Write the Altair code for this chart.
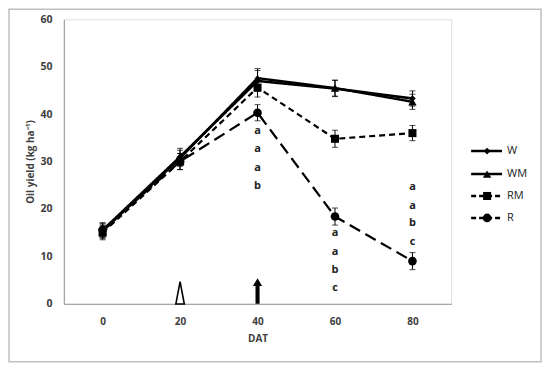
import altair as alt
import pandas as pd

# ---- data ----
dat = [0, 20, 40, 60, 80]
series = ["W", "WM", "RM", "R"]
W = [15.5, 31.0, 47.0, 45.4, 43.3]
WM = [15.3, 30.7, 47.6, 45.5, 42.6]
RM = [15.0, 30.0, 45.6, 34.8, 36.0]
R = [15.6, 30.0, 40.3, 18.4, 9.0]
W_err = [1.5, 1.8, 2.2, 1.7, 1.6]
WM_err = [1.5, 1.7, 2.0, 1.7, 1.6]
RM_err = [1.5, 1.7, 2.0, 1.8, 1.6]
R_err = [1.5, 1.7, 1.7, 1.8, 1.8]

letter_x = [40, 40, 40, 40, 60, 60, 60, 60, 80, 80, 80, 80]
letter_y = [36.4, 32.6, 28.7, 24.8, 14.9, 11.0, 7.2, 3.3, 24.7, 20.7, 17.0, 13.1]
letter_txt = ["a", "a", "a", "b", "a", "a", "b", "c", "a", "a", "b", "c"]

arrow_x = [20, 40]
arrow_y = [2.3, 2.7]
arrow_kind = ["hollow", "filled"]

rows = []
for name, vals, errs in [("W", W, W_err), ("WM", WM, WM_err), ("RM", RM, RM_err), ("R", R, R_err)]:
    for d, v, e in zip(dat, vals, errs):
        rows.append({"series": name, "DAT": d, "value": v, "lo": v - e, "hi": v + e})
df = pd.DataFrame(rows)

letters = pd.DataFrame({"DAT": letter_x, "value": letter_y, "txt": letter_txt})
arrows = pd.DataFrame({"DAT": arrow_x, "value": arrow_y, "kind": arrow_kind})

FONT = "Open Sans"
LABEL = "#404040"
YTITLE = "Oil yield (kg ha⁻¹)"

xscale = alt.Scale(domain=[-10, 90], nice=False, zero=False)
yscale = alt.Scale(domain=[0, 60], nice=False)

xax = alt.Axis(values=dat, grid=False, ticks=False, domainColor="#a6a6a6", domainWidth=1.3,
               labelFont=FONT, labelFontWeight="bold", labelColor=LABEL, labelFontSize=10,
               labelPadding=13, title="DAT", titleFont=FONT, titleFontWeight="bold",
               titleColor=LABEL, titleFontSize=10, titlePadding=7)
yax = alt.Axis(values=[0, 10, 20, 30, 40, 50, 60], grid=False, ticks=False, domainColor="#a6a6a6",
               domainWidth=1.3, labelFont=FONT, labelFontWeight="bold", labelColor=LABEL,
               labelFontSize=10.5, labelPadding=12, title=YTITLE, titleFont=FONT,
               titleFontWeight="bold", titleColor=LABEL, titleFontSize=10, titlePadding=4)

dash = {"W": [1, 0], "WM": [1, 0], "RM": [6, 4], "R": [12, 6]}
shape = {"W": "diamond", "WM": "triangle-up", "RM": "square", "R": "circle"}
msize = {"W": 45, "WM": 70, "RM": 65, "R": 75}
lw = {"W": 2.6, "WM": 2.4, "RM": 2.2, "R": 2.2}

base = alt.Chart(df)
layers = []
for s in ["R", "RM", "WM", "W"]:
    sub = base.transform_filter(alt.datum.series == s)
    layers.append(sub.mark_line(color="black", strokeWidth=lw[s], strokeDash=dash[s]).encode(
        x=alt.X("DAT:Q", scale=xscale, axis=xax, title="DAT"),
        y=alt.Y("value:Q", scale=yscale, axis=yax, title=YTITLE)))
for s in ["R", "RM", "WM", "W"]:
    sub = base.transform_filter(alt.datum.series == s)
    layers.append(sub.mark_errorbar(ticks=alt.TickConfig(size=6, thickness=1, color="black"),
                                    color="black", thickness=1).encode(
        x=alt.X("DAT:Q", title="DAT"), y=alt.Y("lo:Q", title=YTITLE), y2="hi:Q"))
    layers.append(sub.mark_point(shape=shape[s], filled=True, color="black", opacity=1,
                                 size=msize[s]).encode(
        x=alt.X("DAT:Q", title="DAT"), y=alt.Y("value:Q", title=YTITLE)))

layers.append(alt.Chart(letters).mark_text(font=FONT, fontWeight="bold", fontSize=11,
                                           color="#222222").encode(
    x=alt.X("DAT:Q", title="DAT"), y=alt.Y("value:Q", title=YTITLE), text="txt:N"))

# arrows
hollow_path = "M-0.38,1 L0,-1 L0.38,1 Z"
filled_path = "M-0.16,1 L0.16,1 L0.16,-0.4 L0.36,-0.4 L0,-1 L-0.36,-0.4 L-0.16,-0.4 Z"
layers.append(alt.Chart(arrows).transform_filter(alt.datum.kind == "hollow").mark_point(
    shape=hollow_path, size=500, filled=True, fill="white", stroke="black", strokeWidth=1.6,
    opacity=1).encode(x=alt.X("DAT:Q", title="DAT"), y=alt.Y("value:Q", title=YTITLE)))
layers.append(alt.Chart(arrows).transform_filter(alt.datum.kind == "filled").mark_point(
    shape=filled_path, size=650, filled=True, color="black", opacity=1).encode(
    x=alt.X("DAT:Q", title="DAT"), y=alt.Y("value:Q", title=YTITLE)))

# legend
leg_y = [132, 155, 177, 199]
leg_df = pd.DataFrame({"series": series})
for s, yy in zip(series, leg_y):
    one = alt.Chart(leg_df).transform_filter(alt.datum.series == s)
    layers.append(one.mark_rule(color="black", strokeWidth=2.4,
                                strokeDash=dash[s] if s in ("W", "WM") else [5, 3]).encode(
        x=alt.value(408), x2=alt.value(439), y=alt.value(yy)))
    layers.append(one.mark_point(shape=shape[s], filled=True, color="black", opacity=1,
                                 size=msize[s]).encode(x=alt.value(424), y=alt.value(yy)))
    layers.append(one.mark_text(align="left", baseline="middle", font=FONT, fontSize=11,
                                color="#222222").encode(
        x=alt.value(444), y=alt.value(yy), text="series:N"))

# outer border
layers.append(alt.Chart(leg_df).transform_filter(alt.datum.series == "W").mark_rect(
    fill=None, filled=False, stroke="#bfbfbf", strokeWidth=1.5).encode(
    x=alt.value(-55), x2=alt.value(478), y=alt.value(-10), y2=alt.value(343)))

chart = alt.layer(*layers).properties(
    width=388, height=285, padding={"left": 0, "top": 0, "right": 0, "bottom": 0}
).configure_view(stroke=None).configure(background="white")

chart.save("out.html", embed_options={"renderer": "svg", "actions": False})
